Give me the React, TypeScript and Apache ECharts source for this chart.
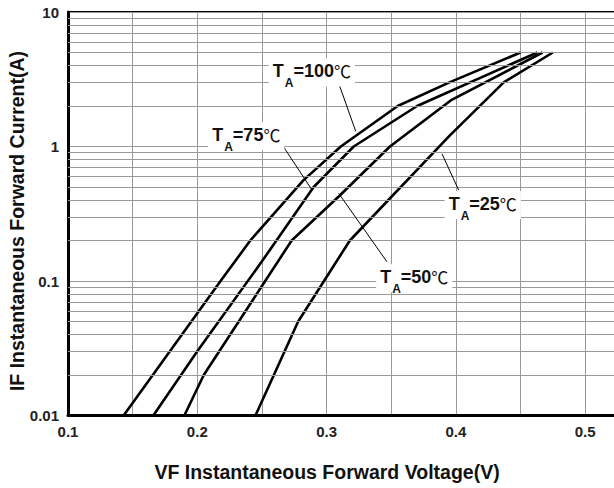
import React, { useEffect, useRef } from 'react';
import * as echarts from 'echarts';

// Forward voltage (V) / forward current (A) for each ambient temperature
const vf100 = [0.143, 0.218, 0.241, 0.282, 0.311, 0.355, 0.395, 0.45];
const if100 = [0.01, 0.1, 0.2, 0.56, 1, 2, 3, 5];
const vf75 = [0.166, 0.2, 0.25, 0.29, 0.321, 0.37, 0.463];
const if75 = [0.01, 0.03, 0.14, 0.5, 1, 2, 5];
const vf50 = [0.19, 0.205, 0.273, 0.31, 0.349, 0.396, 0.467];
const if50 = [0.01, 0.02, 0.2, 0.43, 1, 2.2, 5];
const vf25 = [0.245, 0.278, 0.318, 0.395, 0.437, 0.475];
const if25 = [0.01, 0.05, 0.2, 1.2, 3, 5];

const curveNames = ['100', '75', '50', '25'];
const xTickLabels = ['0.1', '0.2', '0.3', '0.4', '0.5'];
const yTickLabels = ['0.01', '0.1', '1', '10'];
const decades = [0.01, 0.1, 1];
const minorSteps = [2, 3, 4, 5, 6, 7, 8, 9];

// annotation label anchor [V, A] and arrow [start, tip]
const labelPos100 = [0.2886, 3.55];
const labelPos75 = [0.2379, 1.19];
const labelPos50 = [0.3678, 0.105];
const labelPos25 = [0.4208, 0.367];
const arrow100 = [[0.3101, 2.82], [0.3225, 1.3]];
const arrow75 = [[0.2616, 1.18], [0.2882, 0.483]];
const arrow50 = [[0.3467, 0.139], [0.3093, 0.449]];
const arrow25 = [[0.4021, 0.475], [0.3893, 0.88]];

const FONT = '"Liberation Sans", Arial, Helvetica, sans-serif';

const zip = (xs: number[], ys: number[]) => xs.map((x, i) => [x, ys[i]]);

const richLabel = {
  t: { fontSize: 18, fontWeight: 'bold', fontFamily: FONT, color: '#111', lineHeight: 20, verticalAlign: 'top' },
  a: { fontSize: 12, fontWeight: 'bold', fontFamily: FONT, color: '#111', lineHeight: 12, padding: [15, 0, 0, 1], verticalAlign: 'top' },
  c: { fontSize: 17, fontWeight: 'normal', fontFamily: '"Noto Sans CJK SC", "DejaVu Sans"', color: '#111', lineHeight: 20, verticalAlign: 'top' },
};

function curveSeries(name: string, data: number[][], labelPos: number[], arrow: number[][]) {
  return {
    type: 'line',
    name,
    data,
    z: 3,
    showSymbol: false,
    symbol: 'none',
    smooth: false,
    lineStyle: { color: '#000', width: 2.6 },
    silent: true,
    markLine: {
      silent: true,
      symbol: ['none', 'arrow'],
      symbolSize: [0, 8],
      lineStyle: { color: '#000', width: 1, type: 'solid' },
      label: { show: false },
      data: [[{ coord: arrow[0] }, { coord: arrow[1] }]],
    },
    markPoint: {
      silent: true,
      symbol: 'rect',
      symbolSize: 1,
      itemStyle: { color: 'rgba(0,0,0,0)' },
      label: {
        show: true,
        position: 'inside',
        formatter: '{t|T}{a|A}{t|=' + name + '}{c|℃}',
        backgroundColor: '#fff',
        padding: [4, 4],
        rich: richLabel,
      },
      data: [{ coord: labelPos }],
    },
  };
}

export default function App() {
  const ref = useRef<HTMLDivElement>(null);
  useEffect(() => {
    const chart = echarts.init(ref.current!, null, { renderer: 'svg' });
    const minorLines: any[] = [];
    decades.forEach((d) => minorSteps.forEach((m) => minorLines.push({ yAxis: Number((d * m).toPrecision(3)) })));
    const option: any = {
      animation: false,
      backgroundColor: '#fff',
      grid: {
        left: 68,
        top: 12,
        width: 549.5,
        height: 403.5,
        outerBoundsMode: 'none',
        containLabel: false,
        show: true,
        borderColor: '#000',
        borderWidth: 2,
        backgroundColor: '#fff',
      },
      xAxis: {
        type: 'value',
        min: 0.1,
        max: 0.525,
        interval: 0.05,
        axisLine: { show: true, lineStyle: { color: '#000', width: 3 } },
        axisTick: { show: false },
        axisLabel: {
          formatter: (v: number) => {
            const s = (Math.round(v * 100) / 100).toFixed(2);
            const t = s.endsWith('0') ? s.slice(0, -1) : s;
            return xTickLabels.includes(t) ? t : '';
          },
          fontWeight: 'bold',
          fontSize: 15,
          fontFamily: FONT,
          color: '#222',
          margin: 8,
        },
        splitLine: { show: true, lineStyle: { color: '#999', width: 1 } },
      },
      yAxis: {
        type: 'log',
        logBase: 10,
        min: 0.01,
        max: 10,
        axisLine: { show: true, lineStyle: { color: '#000', width: 3 } },
        axisTick: { show: false },
        axisLabel: {
          formatter: (v: number) => {
            const s = String(Number(v.toPrecision(3)));
            return yTickLabels.includes(s) ? s : '';
          },
          fontWeight: 'bold',
          fontSize: 15,
          fontFamily: FONT,
          color: '#222',
          margin: 9,
        },
        splitLine: { show: true, lineStyle: { color: '#999', width: 1 } },
      },
      graphic: [
        {
          type: 'text',
          x: 327,
          y: 472,
          style: {
            text: 'VF Instantaneous Forward Voltage(V)',
            font: 'bold 19.5px ' + FONT,
            fill: '#111',
            align: 'center',
            verticalAlign: 'middle',
          },
        },
        {
          type: 'text',
          x: 17,
          y: 221,
          rotation: Math.PI / 2,
          style: {
            text: 'IF Instantaneous Forward Current(A)',
            font: 'bold 19.5px ' + FONT,
            fill: '#111',
            align: 'center',
            verticalAlign: 'middle',
          },
        },
      ],
      series: [
        {
          type: 'line',
          data: [[0.1, 0.01]],
          showSymbol: false,
          symbol: 'none',
          lineStyle: { width: 0 },
          silent: true,
          z: 1,
          markLine: {
            silent: true,
            symbol: ['none', 'none'],
            lineStyle: { color: '#999', width: 1, type: 'solid' },
            label: { show: false },
            data: minorLines,
          },
        },
        curveSeries(curveNames[0], zip(vf100, if100), labelPos100, arrow100),
        curveSeries(curveNames[1], zip(vf75, if75), labelPos75, arrow75),
        curveSeries(curveNames[2], zip(vf50, if50), labelPos50, arrow50),
        curveSeries(curveNames[3], zip(vf25, if25), labelPos25, arrow25),
      ],
    };
    chart.setOption(option);
    return () => chart.dispose();
  }, []);
  return <div ref={ref} style={{ width: 614, height: 488, position: 'absolute', left: 0, top: 0 }} />;
}
